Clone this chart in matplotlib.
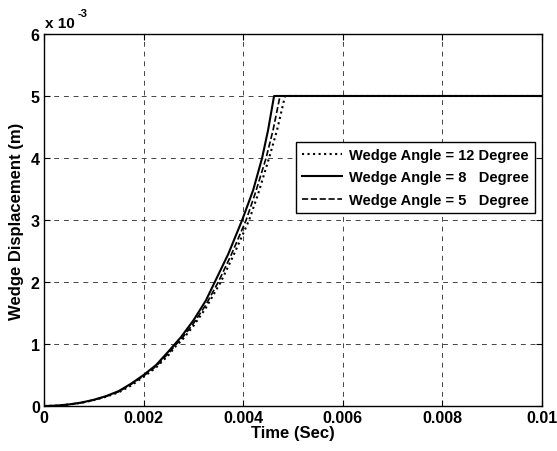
import matplotlib
matplotlib.use("Agg")
import matplotlib.pyplot as plt

plt.rcParams['font.family'] = ['Liberation Sans', 'DejaVu Sans']
plt.rcParams['font.weight'] = 'bold'

# tiempo en ms (eje x en segundos: *1e-3), desplazamiento en unidades de 1e-3 m
t_12 = [0, 0.25, 0.5, 0.75, 1.0, 1.25, 1.5, 1.75, 2.0, 2.25, 2.5, 2.68, 2.75, 3.0,
        3.25, 3.55, 3.8, 4.12, 4.3, 4.52, 4.68, 4.84, 10.0]
y_12 = [0, 0.005, 0.023, 0.05, 0.094, 0.15, 0.22, 0.33, 0.47, 0.62, 0.82, 1.0, 1.04, 1.29,
        1.58, 2.0, 2.42, 3.0, 3.42, 4.0, 4.45, 5.0, 5.0]

t_8 = [0, 0.25, 0.5, 0.75, 1.0, 1.25, 1.5, 1.75, 2.0, 2.25, 2.5, 2.63, 2.75, 3.0,
       3.25, 3.43, 3.7, 3.98, 4.2, 4.38, 4.5, 4.62, 10.0]
y_8 = [0, 0.005, 0.025, 0.055, 0.1, 0.16, 0.24, 0.36, 0.5, 0.66, 0.88, 1.0, 1.11, 1.38,
       1.7, 2.0, 2.45, 3.0, 3.48, 4.0, 4.45, 5.0, 5.0]

t_5 = [0, 0.25, 0.5, 0.75, 1.0, 1.25, 1.5, 1.75, 2.0, 2.25, 2.5, 2.66, 2.75, 3.0,
       3.25, 3.5, 3.75, 4.06, 4.25, 4.46, 4.6, 4.74, 10.0]
y_5 = [0, 0.005, 0.024, 0.053, 0.097, 0.155, 0.23, 0.35, 0.485, 0.64, 0.85, 1.0, 1.07, 1.33,
       1.63, 2.0, 2.42, 3.0, 3.45, 4.0, 4.45, 5.0, 5.0]

xticks = [0, 0.002, 0.004, 0.006, 0.008, 0.01]
xlabels = ['0', '0.002', '0.004', '0.006', '0.008', '0.01']
yticks = [0, 1, 2, 3, 4, 5, 6]

fig = plt.figure(figsize=(5.57, 4.52), dpi=100)
ax = fig.add_axes([0.079, 0.0996, 0.894, 0.823])

sec = lambda t: [v * 1e-3 for v in t]
ax.plot(sec(t_12), y_12, color='black', linestyle=':', linewidth=1.5,
        label='Wedge Angle = 12 Degree')
ax.plot(sec(t_8), y_8, color='black', linestyle='-', linewidth=1.5,
        label='Wedge Angle = 8   Degree')
ax.plot(sec(t_5), y_5, color='black', linestyle='--', linewidth=1.2,
        label='Wedge Angle = 5   Degree')

ax.set_xlim(0, 0.01)
ax.set_ylim(0, 6)
ax.set_xticks(xticks)
ax.set_xticklabels(xlabels)
ax.set_yticks(yticks)
ax.tick_params(direction='in', top=True, right=True, length=4, labelsize=11.5, pad=3)
for s in ax.spines.values():
    s.set_linewidth(1.0)

ax.grid(True, color='#444444', linestyle=(0, (5, 5)), linewidth=0.7)

ax.set_xlabel('Time (Sec)', fontsize=12, fontweight='bold', labelpad=0)
ax.set_ylabel('Wedge Displacement (m)', fontsize=12, fontweight='bold', labelpad=5)

# multiplicador estilo matlab
fig.text(0.080, 0.938, 'x 10', fontsize=11, fontweight='bold')
fig.text(0.139, 0.962, '-3', fontsize=8, fontweight='bold')

leg = ax.legend(loc='upper right', bbox_to_anchor=(0.986, 0.71), fontsize=10.5,
                fancybox=False, framealpha=1, edgecolor='black',
                handlelength=2.75, borderpad=0.4, labelspacing=0.6,
                handletextpad=0.5, borderaxespad=0)
leg.get_frame().set_linewidth(1.0)

fig.savefig('out.png', dpi=100)
